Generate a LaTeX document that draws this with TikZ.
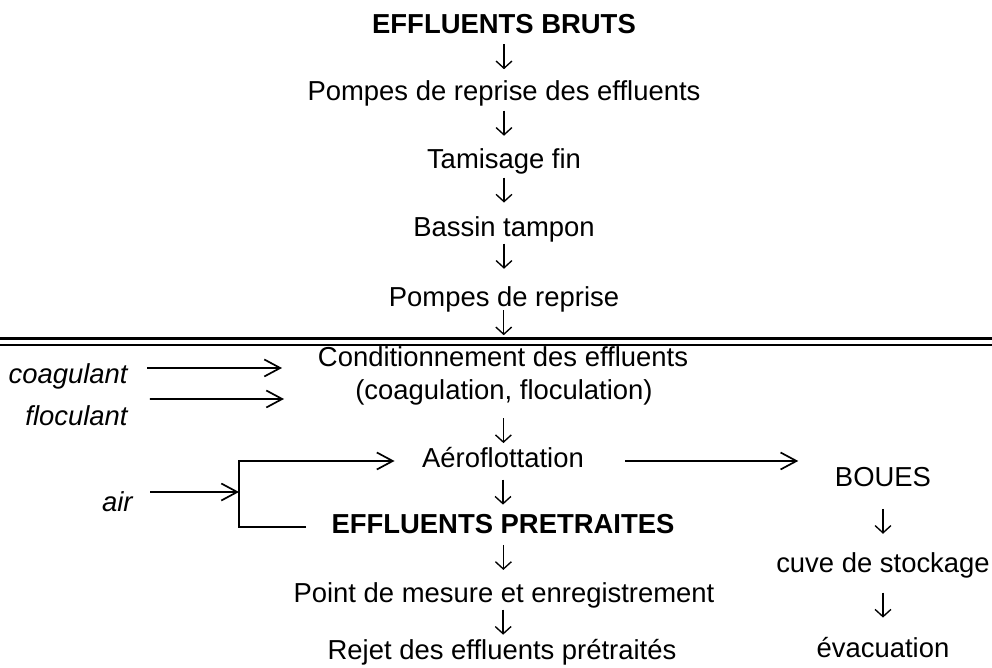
\documentclass[tikz,border=0pt]{standalone}
\usepackage{fontspec}
\setmainfont{Liberation Sans}
\usetikzlibrary{arrows.meta,calc}

\begin{document}
\begin{tikzpicture}[x=0.0155cm, y=-0.0155cm,
        etape/.style={inner sep=0pt, text height=9.1pt, text depth=3pt,
            font=\fontsize{12.1}{14}\selectfont},
        titre/.style={etape, font=\fontsize{12.1}{14}\selectfont\bfseries},
        reactif/.style={etape, anchor=east, font=\fontsize{12.1}{14}\selectfont\itshape},
        suite/.style={-{Straight Barb[length=3.2pt,width=7pt]}, line width=0.6pt},
        apport/.style={-{Straight Barb[length=7pt,width=7.5pt]}, line width=0.75pt},
        separation/.style={line width=0.9pt}]
        \useasboundingbox (0,0) rectangle (992,668);

        % Etape 1: Chaine de pretraitement (partie haute)
        \node[titre] (brut) at (504,26.5) {EFFLUENTS BRUTS};
        \node[etape] (pompes1) at (504,94) {Pompes de reprise des effluents};
        \node[etape] (tamis) at (504,162) {Tamisage fin};
        \node[etape] (bassin) at (504,230) {Bassin tampon};
        \node[etape] (pompes2) at (504,300) {Pompes de reprise};

        % Etape 2: Double trait de separation
        \draw[separation] (0,338.5) -- (992,338.5);
        \draw[separation] (0,345) -- (992,345);

        % Etape 3: Chaine de pretraitement (partie basse)
        \node[etape] (cond) at (503,360) {Conditionnement des effluents};
        \node[etape] (floc) at (504,393) {(coagulation, floculation)};
        \node[etape] (aero) at (503,461) {Aéroflottation};
        \node[titre] (pretr) at (503,527) {EFFLUENTS PRETRAITES};
        \node[etape] (mesure) at (504,596) {Point de mesure et enregistrement};
        \node[etape] (rejet) at (502,653) {Rejet des effluents prétraités};

        % Etape 4: Filiere des boues
        \node[etape] (boues) at (883,480) {BOUES};
        \node[etape] (cuve) at (883,566) {cuve de stockage};
        \node[etape] (evac) at (883,651) {évacuation};

        % Etape 5: Reactifs ajoutes
        \node[reactif] (coag) at (128,377) {coagulant};
        \node[reactif] (flocu) at (128,419) {floculant};
        \node[reactif] (air) at (133,505) {air};
        \coordinate (entreeCoag) at (282,368);
        \coordinate (entreeFloc) at (284,399);
        \coordinate (jonction) at (239,492);

        % Etape 6: Fleches verticales (longueur fixe, placees entre les etapes)
        \foreach \a/\b/\f in {brut/pompes1/0.41, pompes1/tamis/0.38, tamis/bassin/0.35,
                bassin/pompes2/0.29, pompes2/cond/0.27, floc/aero/0.59, aero/pretr/0.45,
                pretr/mesure/0.40, mesure/rejet/0.42, boues/cuve/0.47, cuve/evac/0.44}
            \draw[suite] ($(\a.south)!\f!(\b.north)$) ++(0,-12.5) -- ++(0,25);

        % Etape 7: Fleches des reactifs et de l'air
        \draw[apport, shorten <=8.4pt] ([yshift=4pt]coag.east) -- (entreeCoag);
        \draw[apport, shorten <=9.7pt] ([yshift=8.8pt]flocu.east) -- (entreeFloc);
        \draw[apport, shorten <=7.5pt] ([yshift=5.7pt]air.east) -- (jonction);
        \draw[apport] ([xshift=-11pt]pretr.west) -- (pretr.west -| jonction)
            |- ([xshift=-12pt]aero.west);

        % Etape 8: Sortie des boues
        \draw[apport, shorten <=18pt, shorten >=16pt] (aero.east) -- (aero.east -| boues.west);
\end{tikzpicture}
\end{document}
